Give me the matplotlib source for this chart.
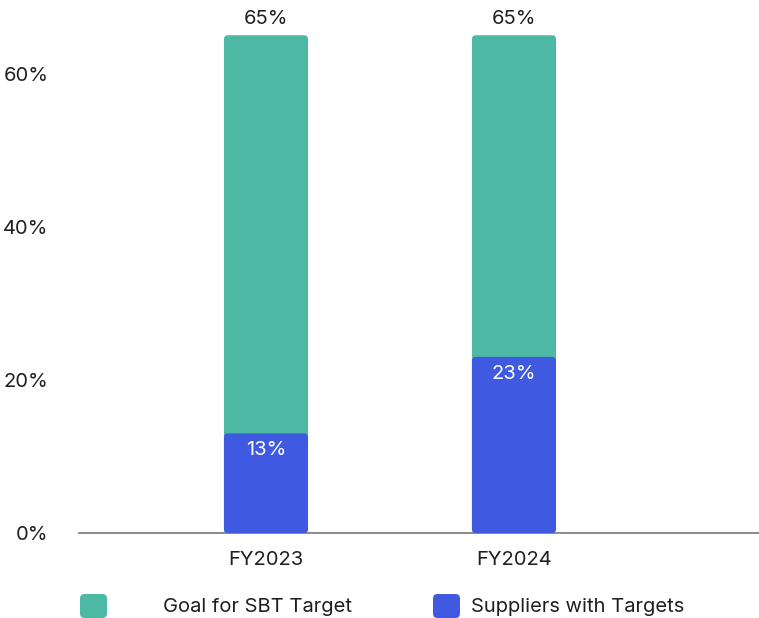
import matplotlib
matplotlib.use("Agg")
import matplotlib.pyplot as plt
from matplotlib.patches import FancyBboxPatch

categories = ["FY2023", "FY2024"]
goal = [65, 65]
suppliers = [13, 23]
yticks = [0, 20, 40, 60]
legend_labels = ["Goal for SBT Target", "Suppliers with Targets"]

teal = "#4db8a4"
blue = "#3f5ae0"
txt = "#1f1f1f"

plt.rcParams["font.family"] = ["Inter", "DejaVu Sans"]

fig = plt.figure(figsize=(7.59, 6.18), dpi=100)
ax = fig.add_axes([79 / 759, 85 / 618, 1 - 79 / 759, 533 / 618])

x = list(range(len(categories)))
w = 0.339
ax.set_xlim(-0.754, 1.988)
ax.set_ylim(0, 69.6)

# rounded bars: draw with ax.bar, then swap each rectangle for a rounded one
def rounded(bars, color):
    for b in bars:
        b.set_visible(False)
        p = FancyBboxPatch((b.get_x(), b.get_y()), b.get_width(), b.get_height(),
                           boxstyle="round,pad=0,rounding_size=0.016",
                           mutation_aspect=32, fc=color, ec="none", zorder=b.get_zorder())
        ax.add_patch(p)

g = ax.bar(x, goal, width=w, color=teal, zorder=2)
s = ax.bar(x, suppliers, width=w, color=blue, zorder=3)
rounded(g, teal)
rounded(s, blue)

for i in x:
    ax.text(i, goal[i] + 1.0, f"{goal[i]}%", ha="center", va="bottom",
            fontsize=14.5, color=txt)
    ax.text(i, suppliers[i] - 1.0, f"{suppliers[i]}%", ha="center", va="top",
            fontsize=14.5, color="white")

ax.set_yticks(yticks)
ax.set_yticklabels([f"{v}%" for v in yticks], fontsize=14.5, color=txt)
ax.set_xticks(x)
ax.set_xticklabels(categories, fontsize=14.5, color=txt)
ax.tick_params(length=0)
ax.tick_params(axis="y", pad=22)
ax.tick_params(axis="x", pad=13)
for sp in ["top", "right", "left"]:
    ax.spines[sp].set_visible(False)
ax.spines["bottom"].set_color("#777777")
ax.spines["bottom"].set_linewidth(1.2)

# legend, drawn by hand (partly cut off at the bottom edge)
leg = [(80, 163, teal), (433, 471, blue)]
for (sx, tx, c), lab in zip(leg, legend_labels):
    fig.patches.append(FancyBboxPatch((sx / 759, 0), 27 / 759, 24 / 618,
                                      boxstyle="round,pad=0,rounding_size=0.006",
                                      transform=fig.transFigure, fc=c, ec="none",
                                      mutation_aspect=759 / 618))
    fig.text(tx / 759, 1 - 607 / 618, lab, ha="left", va="center",
             fontsize=14.5, color=txt)

fig.savefig("out.png", dpi=100)
